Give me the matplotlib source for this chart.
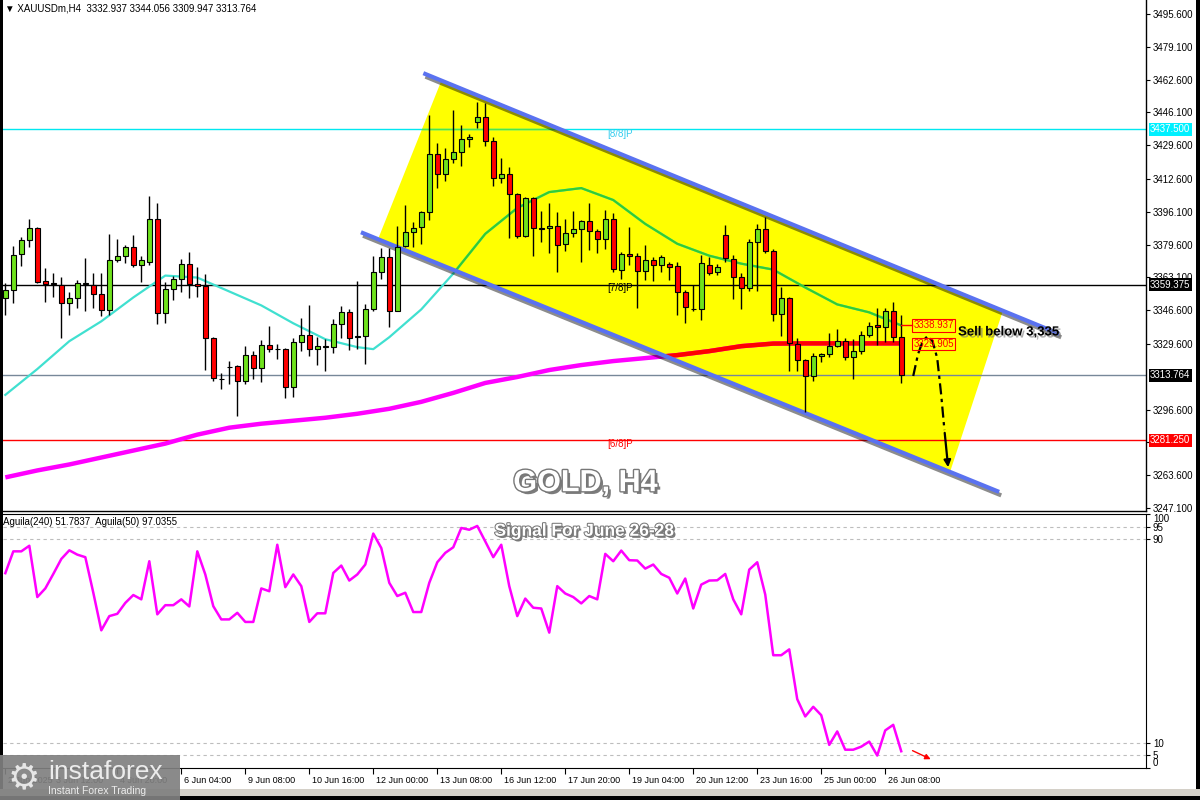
import matplotlib
matplotlib.use("Agg")
import matplotlib.pyplot as plt
import matplotlib.patheffects as pe
from matplotlib.patches import Polygon, Rectangle
from matplotlib.transforms import ScaledTranslation, blended_transform_factory

plt.rcParams['font.family'] = ['Liberation Sans', 'DejaVu Sans']

# XAUUSDm H4, bar 0 = 2 Jun 12:00, last bar = 26 Jun 16:00
opens = [3352.6, 3356.8, 3374.7, 3381.9, 3387.8, 3361.1, 3360.1, 3359.5, 3350.4, 3352.6,
         3359.9, 3359.5, 3354.6, 3346.5, 3371.7, 3373.7, 3378.2, 3369.5, 3371.0, 3392.3,
         3345.0, 3357.1, 3362.1, 3369.7, 3359.6, 3358.6, 3332.4, 3312.2, 3318.0, 3318.5,
         3311.0, 3324.2, 3317.4, 3328.9, 3327.3, 3326.9, 3307.8, 3330.4, 3333.9, 3326.9,
         3328.8, 3328.1, 3339.5, 3345.9, 3333.3, 3333.6, 3347.0, 3365.7, 3373.5, 3346.4,
         3379.0, 3386.0, 3388.2, 3395.8, 3425.3, 3414.9, 3422.4, 3426.4, 3432.5, 3441.0,
         3443.9, 3431.5, 3412.9, 3415.2, 3404.8, 3384.0, 3403.1, 3387.7, 3387.7, 3388.9,
         3379.7, 3385.5, 3387.5, 3391.2, 3386.2, 3382.2, 3392.6, 3366.8, 3375.1, 3373.6,
         3366.1, 3371.9, 3369.3, 3369.8, 3368.6, 3355.5, 3347.2, 3347.0, 3369.5, 3365.7,
         3384.3, 3372.5, 3363.5, 3357.6, 3380.9, 3387.3, 3376.4, 3344.5, 3352.6, 3329.8,
         3321.4, 3313.5, 3323.6, 3324.6, 3328.6, 3330.9, 3322.9, 3325.9, 3333.9, 3339.0,
         3338.0, 3346.0, 3332.937]
highs = [3360.1, 3379.1, 3383.3, 3392.5, 3388.6, 3367.7, 3365.1, 3363.5, 3355.6, 3361.8,
         3372.7, 3365.1, 3365.1, 3384.8, 3382.3, 3379.4, 3384.4, 3373.9, 3404.1, 3400.7,
         3361.0, 3363.8, 3372.4, 3375.7, 3368.2, 3364.6, 3332.9, 3314.8, 3321.2, 3319.0,
         3328.8, 3326.1, 3331.6, 3338.7, 3329.4, 3327.4, 3332.4, 3342.5, 3349.2, 3333.3,
         3332.1, 3342.3, 3348.9, 3347.0, 3361.3, 3349.6, 3373.9, 3377.7, 3377.7, 3389.0,
         3399.4, 3391.1, 3396.6, 3444.7, 3430.5, 3428.0, 3447.2, 3439.5, 3435.2, 3451.4,
         3450.9, 3433.5, 3422.9, 3418.4, 3405.3, 3403.6, 3403.6, 3396.4, 3400.3, 3396.1,
         3392.4, 3396.4, 3392.2, 3400.3, 3387.2, 3396.9, 3395.6, 3376.0, 3388.6, 3375.6,
         3379.3, 3373.5, 3374.3, 3370.6, 3370.9, 3357.0, 3359.5, 3374.6, 3373.5, 3369.8,
         3389.5, 3374.4, 3365.1, 3382.2, 3390.0, 3393.7, 3377.2, 3358.1, 3353.4, 3332.6,
         3321.8, 3325.2, 3325.2, 3335.3, 3337.0, 3332.4, 3331.9, 3336.3, 3340.8, 3347.5,
         3347.9, 3350.7, 3344.056]
lows = [3344.2, 3350.4, 3368.8, 3378.6, 3360.1, 3350.9, 3353.4, 3332.8, 3344.2, 3347.5,
        3346.4, 3347.5, 3343.9, 3344.2, 3371.0, 3370.5, 3368.2, 3361.0, 3369.3, 3339.5,
        3340.0, 3351.7, 3355.9, 3352.9, 3353.1, 3316.5, 3311.2, 3307.1, 3309.3, 3293.5,
        3309.3, 3312.2, 3310.6, 3325.7, 3321.9, 3302.3, 3302.8, 3326.2, 3323.4, 3319.2,
        3315.8, 3324.9, 3332.4, 3326.4, 3326.9, 3319.4, 3346.4, 3362.1, 3338.3, 3346.4,
        3378.5, 3378.2, 3379.7, 3391.9, 3407.8, 3411.7, 3420.7, 3419.2, 3428.8, 3438.4,
        3429.3, 3409.2, 3410.7, 3382.7, 3382.7, 3383.2, 3373.8, 3381.0, 3375.5, 3365.9,
        3376.5, 3383.5, 3370.6, 3377.1, 3375.5, 3377.3, 3365.9, 3362.1, 3369.4, 3347.5,
        3361.7, 3361.4, 3365.6, 3361.7, 3344.4, 3340.4, 3346.3, 3341.9, 3364.5, 3364.5,
        3371.0, 3352.1, 3347.0, 3356.3, 3356.3, 3375.5, 3341.3, 3333.6, 3316.2, 3316.2,
        3295.5, 3311.1, 3320.7, 3323.2, 3328.2, 3321.5, 3311.8, 3324.6, 3333.3, 3329.3,
        3330.8, 3330.6, 3309.947]
closes = [3356.8, 3374.2, 3381.9, 3387.8, 3361.0, 3359.8, 3359.6, 3350.4, 3352.6, 3360.1,
          3360.2, 3354.9, 3346.5, 3371.7, 3373.7, 3378.2, 3369.5, 3371.7, 3392.3, 3345.0,
          3357.1, 3362.1, 3369.7, 3359.8, 3358.6, 3332.4, 3312.3, 3311.9, 3318.2, 3311.0,
          3324.2, 3317.4, 3328.9, 3327.3, 3326.9, 3307.8, 3330.4, 3333.9, 3326.9, 3328.8,
          3328.1, 3339.5, 3345.9, 3332.8, 3333.6, 3347.0, 3365.7, 3373.5, 3346.4, 3378.6,
          3385.7, 3388.0, 3395.8, 3425.3, 3414.9, 3422.4, 3426.4, 3432.5, 3433.5, 3443.9,
          3431.5, 3412.9, 3414.9, 3404.8, 3384.0, 3403.1, 3387.7, 3387.5, 3388.9, 3379.3,
          3385.5, 3387.5, 3391.2, 3386.2, 3382.2, 3392.6, 3367.3, 3375.1, 3373.6, 3366.1,
          3371.9, 3369.3, 3373.5, 3368.4, 3355.5, 3348.0, 3347.0, 3370.1, 3365.5, 3368.5,
          3372.7, 3363.5, 3357.6, 3380.9, 3387.3, 3376.5, 3344.5, 3352.6, 3329.9, 3321.5,
          3313.5, 3323.6, 3324.6, 3328.6, 3330.9, 3322.9, 3325.9, 3333.9, 3338.8, 3338.0,
          3346.0, 3332.9, 3313.764]

# moving averages read every few bars
fast_bars = [0, 4, 8, 12, 16, 20, 24, 28, 32, 36, 40, 44, 46, 48, 50, 52, 56, 60, 64, 68,
             72, 76, 80, 84, 88, 92, 96, 100, 104, 108, 112]
fast_vals = [3304, 3317, 3331, 3341, 3353, 3364, 3363, 3356, 3349, 3340, 3332, 3328, 3327,
             3333, 3340, 3347, 3365, 3385, 3398, 3406, 3408, 3402, 3390, 3380, 3374, 3370,
             3367, 3358, 3349.5, 3345.5, 3338.937]
slow_bars = [0, 4, 8, 12, 16, 20, 24, 28, 32, 36, 40, 44, 48, 52, 56, 60, 64, 68, 72, 76,
             80, 84, 88, 92, 96, 100, 104, 108, 112]
slow_vals = [3262.5, 3266, 3269, 3272.5, 3276, 3279.5, 3284, 3287.5, 3289.5, 3291, 3292.5,
             3294.5, 3297, 3300.5, 3305, 3310, 3313, 3316.5, 3319, 3321, 3322.5, 3324, 3326,
             3328.5, 3329.8, 3329.9, 3329.9, 3329.9, 3329.905]

# Aguila(50) oscillator, one value per bar
aguila = [76.7, 85.3, 85.3, 87.5, 67.3, 70.7, 76.4, 82.3, 85.7, 84.0,
          83.0, 69.0, 54.2, 59.8, 60.7, 65.0, 68.1, 66.4, 81.4, 60.5,
          64.1, 64.1, 66.4, 63.6, 85.3, 76.2, 63.7, 58.5, 58.5, 61.1,
          57.5, 57.5, 70.7, 69.6, 87.9, 71.2, 76.2, 71.6, 57.5, 60.9,
          60.9, 76.8, 79.7, 73.8, 76.2, 80.1, 92.3, 86.6, 72.9, 67.7,
          69.0, 61.4, 61.4, 72.9, 81.0, 84.7, 86.9, 94.5, 93.8, 95.3,
          89.2, 83.0, 87.9, 71.6, 59.8, 66.7, 63.1, 62.8, 53.3, 71.6,
          68.7, 67.3, 64.8, 67.7, 66.4, 84.3, 81.4, 85.6, 81.8, 81.7,
          78.5, 80.1, 76.4, 74.9, 68.7, 74.6, 62.8, 72.2, 73.8, 73.9,
          76.4, 66.4, 60.5, 78.1, 81.0, 68.3, 44.4, 44.4, 46.7, 27.1,
          20.3, 24.1, 20.8, 9.1, 14.4, 7.2, 7.2, 8.4, 10.4, 4.9,
          14.8, 17.0, 6.6]

# Murrey math levels
mm_levels = [3437.5, 3359.375, 3281.25]
mm_names = ['[8/8]P', '[7/8]P', '[6/8]P']

# channel anchors (bar, price)
upper_x = [52.5, 131.5]
upper_y = [3465.4, 3335.1]
lower_x = [44.7, 124.0]
lower_y = [3385.4, 3255.6]
fill_x = [54.5, 124.7, 118.1, 46.6]
fill_y = [3461.9, 3346.2, 3265.2, 3382.4]

# projected path
path_x = [113.5, 114.1, 114.7, 115.3, 115.9, 116.5, 117.0, 117.4, 117.9]
path_y = [3313.5, 3324.5, 3331.1, 3333.6, 3331.1, 3322.5, 3303.9, 3286.3, 3266.2]

price_ticks = [3495.6, 3479.1, 3462.6, 3446.1, 3429.6, 3412.6, 3396.1, 3379.6, 3363.1,
               3346.6, 3329.6, 3296.6, 3280.1, 3263.6, 3247.1]
time_ticks = [0, 6, 14, 22, 30, 38, 46, 54, 62, 70, 78, 86, 94, 102, 110]
time_labels = ['2 Jun 2025', '3 Jun 12:00', '4 Jun 20:00', '6 Jun 04:00', '9 Jun 08:00',
               '10 Jun 16:00', '12 Jun 00:00', '13 Jun 08:00', '16 Jun 12:00',
               '17 Jun 20:00', '19 Jun 04:00', '20 Jun 12:00', '23 Jun 16:00',
               '25 Jun 00:00', '26 Jun 08:00']

fig = plt.figure(figsize=(12, 8), dpi=100, facecolor='white')
ax = fig.add_axes([3 / 1200, 1 - 511 / 800, 1143 / 1200, 511 / 800])
ax2 = fig.add_axes([3 / 1200, 1 - 768 / 800, 1143 / 1200, 254 / 800])
xmin, xmax = -0.29, 142.6

# ---- main panel ----
ax.set_xlim(xmin, xmax)
ax.set_ylim(3245.6, 3502.6)

chan = Polygon(list(zip(fill_x, fill_y)), closed=True, fc='#ffff00', ec='none', zorder=1)
ax.add_patch(chan)

# horizontal levels
ax.axhline(mm_levels[0], color='#00e8f0', lw=1, zorder=1.5)
h = ax.axhline(mm_levels[0], color='#4ce64c', lw=1, zorder=1.6)
h.set_clip_path(chan)
ax.axhline(mm_levels[1], color='black', lw=1, zorder=1.5)
ax.axhline(mm_levels[2], color='red', lw=1, zorder=1.5)
ax.axhline(closes[-1], color='#778899', lw=1, zorder=1.5)
ax.text(75.2, mm_levels[0] - 3.8, mm_names[0], color='#33ccee', fontsize=7, zorder=2)
ax.text(75.2, mm_levels[1] - 3.2, mm_names[1], color='black', fontsize=7, zorder=2)
ax.text(75.2, mm_levels[2] - 3.5, mm_names[2], color='red', fontsize=7, zorder=2)

# moving averages (colour changes over the yellow channel)
ax.plot(slow_bars, slow_vals, color='#ff00ff', lw=3.2, zorder=2, solid_capstyle='butt')
l = ax.plot(slow_bars, slow_vals, color='#ff0000', lw=3.2, zorder=2.1, solid_capstyle='butt')[0]
l.set_clip_path(chan)
ax.plot(fast_bars, fast_vals, color='#40e0d0', lw=1.6, zorder=2)
l = ax.plot(fast_bars, fast_vals, color='#33cc33', lw=1.6, zorder=2.1)[0]
l.set_clip_path(chan)

# channel borders
shadow = [pe.SimpleLineShadow(offset=(1.5, -2.5), shadow_color='black', alpha=0.45), pe.Normal()]
ax.plot(upper_x, upper_y, color='#5a72f0', lw=3, zorder=2.5, path_effects=shadow)
ax.plot(lower_x, lower_y, color='#5a72f0', lw=3, zorder=2.5, path_effects=shadow)

# candles
bars = list(range(len(opens)))
ax.vlines(bars, lows, highs, color='black', lw=1, zorder=3)
bottoms = [min(o, c) for o, c in zip(opens, closes)]
heights = [abs(c - o) for o, c in zip(opens, closes)]
colors = ['#6fe21c' if c >= o else '#ff0000' for o, c in zip(opens, closes)]
ax.bar(bars, heights, bottom=bottoms, width=0.62, color=colors, edgecolor='black',
       linewidth=0.8, zorder=4)

# MA value labels
ax.plot([bars[-1], 113.4], [fast_vals[-1], fast_vals[-1]], color='red', lw=1, zorder=3)
ax.text(113.5, fast_vals[-1], '%.3f' % fast_vals[-1], color='red', fontsize=7, va='center',
        bbox=dict(boxstyle='square,pad=0.15', fc='none', ec='red', lw=0.8), zorder=6)
ax.text(113.5, slow_vals[-1] - 0.3, '%.3f' % slow_vals[-1], color='red', fontsize=7, va='center',
        bbox=dict(boxstyle='square,pad=0.15', fc='none', ec='red', lw=0.8), zorder=6)

# projected path
ax.plot(path_x[:-1], path_y[:-1], color='black', lw=1.6, dashes=(5, 2, 1.5, 2), zorder=5)
ax.annotate('', xy=(path_x[-1], path_y[-1]), xytext=(path_x[-2], path_y[-2]),
            arrowprops=dict(arrowstyle='-|>', color='black', lw=1.6, mutation_scale=10), zorder=5)

txt_shadow = [pe.withSimplePatchShadow(offset=(1.5, -1.5), shadow_rgbFace='#777777', alpha=0.6)]
ax.text(119.1, 3335.4, 'Sell below 3,335', fontsize=9.5, fontweight='bold', color='black',
        ha='left', va='center', zorder=6, path_effects=txt_shadow)

big = [pe.SimplePatchShadow(offset=(2, -2), shadow_rgbFace='#444444', alpha=0.7),
       pe.Stroke(linewidth=2, foreground='#777777'), pe.Normal()]
ax.text(72.5, 3259.6, 'GOLD, H4', fontsize=22, fontweight='bold', color='white',
        ha='center', va='center', zorder=6, path_effects=big)

ax.text(0.0015, 0.984, '\u25bc XAUUSDm,H4  3332.937 3344.056 3309.947 3313.764',
        transform=ax.transAxes, fontsize=7, va='center', ha='left', zorder=6)

# price axis
ax.yaxis.tick_right()
ax.set_yticks(price_ticks)
ax.set_yticklabels(['%.3f' % v for v in price_ticks])
ax.tick_params(axis='y', labelsize=7, length=3, pad=2, direction='out')
ax.set_xticks([])
for s in ['left', 'top']:
    ax.spines[s].set_visible(False)
ax.spines['right'].set_linewidth(1)
ax.spines['bottom'].set_linewidth(1)

tr = blended_transform_factory(ax.transAxes, ax.transData)
boxes = [(mm_levels[0], '#00f0ff'), (mm_levels[1], 'black'), (closes[-1], 'black'),
         (mm_levels[2], '#ff0000')]
for val, fc in boxes:
    ax.text(1.0035, val, '%.3f' % val, transform=tr, fontsize=7, color='white', va='center',
            ha='left', bbox=dict(boxstyle='square,pad=0.15', fc=fc, ec='none'),
            zorder=7, clip_on=False)

# ---- indicator panel ----
ax2.set_xlim(xmin, xmax)
ax2.set_ylim(0, 100)
for lev in [5, 10, 90, 95]:
    ax2.axhline(lev, color='#bdbdbd', lw=0.8, dashes=(3, 3), zorder=1)
ax2.plot(bars, aguila, color='#ff00ff', lw=1.8, zorder=3)
ax2.annotate('', xy=(116.0, 3.0), xytext=(113.1, 7.3),
             arrowprops=dict(arrowstyle='-|>', color='red', lw=1, mutation_scale=8))
ax2.text(0.0, 0.968, 'Aguila(240) 51.7837  Aguila(50) 97.0355', transform=ax2.transAxes,
         fontsize=7, va='center', ha='left')
sig = [pe.SimplePatchShadow(offset=(1.5, -1.5), shadow_rgbFace='#444444', alpha=0.7),
       pe.Stroke(linewidth=1.5, foreground='#777777'), pe.Normal()]
ax2.text(72.4, 93.2, 'Signal For June 26-28', fontsize=12.5, fontweight='bold',
         color='white', ha='center', va='center', zorder=6, path_effects=sig)

ax2.yaxis.tick_right()
ax2.set_yticks([0, 5, 10, 90, 95, 100])
ax2.set_yticklabels(['0', '5', '10', '90', '95', '100'])
ax2.tick_params(axis='y', labelsize=7, length=3, pad=2)
for lab in ax2.get_yticklabels():
    if lab.get_text() == '100':
        lab.set_va('top')
    elif lab.get_text() == '0':
        lab.set_va('bottom')
ax2.set_xticks(time_ticks)
ax2.set_xticklabels(time_labels)
ax2.tick_params(axis='x', labelsize=6.5, length=4, pad=2, direction='out')
offset = ScaledTranslation(3 / 100, 0, fig.dpi_scale_trans)
for lab in ax2.get_xticklabels():
    lab.set_ha('left')
    lab.set_transform(lab.get_transform() + offset)
ax2.spines['left'].set_visible(False)

# window borders and logo
fig.patches.append(Rectangle((0, 0), 3 / 1200, 1, transform=fig.transFigure,
                             fc='black', ec='none', zorder=20))
fig.patches.append(Rectangle((1196 / 1200, 0), 4 / 1200, 1, transform=fig.transFigure,
                             fc='black', ec='none', zorder=20))
fig.patches.append(Rectangle((0, 4 / 800), 1, 7 / 800, transform=fig.transFigure,
                             fc='#d4d0c8', ec='none', zorder=20))
fig.patches.append(Rectangle((0, 0), 1, 4 / 800, transform=fig.transFigure,
                             fc='black', ec='none', zorder=20))
fig.patches.append(Rectangle((0, 0), 180 / 1200, 45 / 800, transform=fig.transFigure,
                             fc='#808080', ec='none', alpha=0.92, zorder=21))
fig.text(24 / 1200, 22 / 800, '\u2699', fontsize=26, color='#e6e6e6', ha='center',
         va='center', family='DejaVu Sans', zorder=22)
fig.text(48 / 1200, 28 / 800, 'instaforex', fontsize=19, color='#ececec', ha='left',
         va='center', zorder=22)
fig.text(48 / 1200, 9 / 800, 'Instant Forex Trading', fontsize=7.5, color='#ececec',
         ha='left', va='center', zorder=22)

fig.savefig('out.png', dpi=100, facecolor='white')
